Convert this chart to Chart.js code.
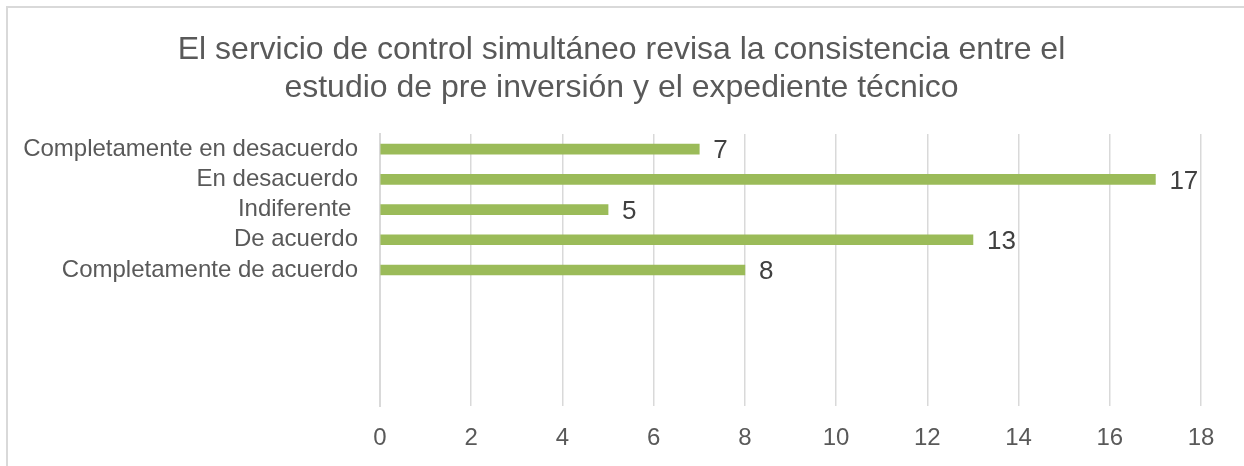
<!DOCTYPE html>
<html>
<head>
<meta charset="utf-8">
<title>Servicio de control simultáneo</title>
<script src="https://cdn.jsdelivr.net/npm/chart.js@4"></script>
<style>
  body { margin: 0; background: #fff; }
  canvas { display: block; }
</style>
</head>
<body>
<canvas id="myChart" width="1244" height="466"></canvas>
<script>
// categorías (las últimas vacías, como en el gráfico original)
var categorias = ['Completamente en desacuerdo', 'En desacuerdo', 'Indiferente ', 'De acuerdo', 'Completamente de acuerdo', '', '', '', ''];
var valores = [7, 17, 5, 13, 8];
var ticksX = [0, 2, 4, 6, 8, 10, 12, 14, 16, 18];
var titulo = ['El servicio de control simultáneo revisa la consistencia entre el', 'estudio de pre inversión y el expediente técnico'];

// marco gris claro alrededor del gráfico
var marco = {
    id: 'marco',
    beforeDraw: function (chart) {
        var c = chart.ctx;
        c.save();
        c.strokeStyle = '#d9d9d9';
        c.lineWidth = 2;
        c.beginPath();
        c.moveTo(7, 470);
        c.lineTo(7, 7);
        c.lineTo(1250, 7);
        c.stroke();
        c.restore();
    }
};

// etiquetas de valor al final de cada barra
var etiquetas = {
    id: 'etiquetas',
    afterDatasetsDraw: function (chart) {
        var c = chart.ctx;
        var meta = chart.getDatasetMeta(0);
        c.save();
        c.font = '26px "Liberation Sans", Arial, sans-serif';
        c.fillStyle = '#404040';
        c.textAlign = 'left';
        c.textBaseline = 'middle';
        meta.data.forEach(function (bar, i) {
            c.fillText(String(valores[i]), bar.x + 14, bar.y + 2);
        });
        c.restore();
    }
};

var ctx = document.getElementById('myChart').getContext('2d');

var myChart = new Chart(ctx, {
    type: 'bar',
    data: {
        labels: categorias,
        datasets: [{
            data: valores,
            backgroundColor: '#9bbb59',
            barThickness: 10
        }]
    },
    options: {
        indexAxis: 'y',
        responsive: false,
        animation: false,
        layout: { padding: { left: 21, right: 22, top: 0, bottom: 0 } },
        plugins: {
            legend: { display: false },
            tooltip: { enabled: false },
            title: {
                display: true,
                text: titulo,
                color: '#595959',
                font: { family: '"Liberation Sans", Arial, sans-serif', size: 32, weight: 'normal', lineHeight: 1.1875 },
                padding: { top: 31, bottom: 27 }
            }
        },
        scales: {
            x: {
                min: 0,
                max: 18,
                afterBuildTicks: function (scale) {
                    scale.ticks = ticksX.map(function (v) { return { value: v }; });
                },
                afterFit: function (scale) { scale.height = 60; },
                grid: { color: '#d9d9d9', lineWidth: 1.5, drawTicks: false },
                border: { display: false },
                ticks: {
                    color: '#595959',
                    padding: 18,
                    font: { family: '"Liberation Sans", Arial, sans-serif', size: 24 }
                }
            },
            y: {
                afterFit: function (scale) { scale.width = 359; },
                grid: { display: false, drawTicks: false },
                border: { display: true, color: '#d9d9d9', width: 2 },
                ticks: {
                    color: '#595959',
                    padding: 22,
                    autoSkip: false,
                    font: { family: '"Liberation Sans", Arial, sans-serif', size: 24 }
                }
            },
            // eje vacío a la derecha, solo para dejar margen
            margen: {
                type: 'linear',
                position: 'right',
                afterFit: function (scale) { scale.width = 21; },
                grid: { display: false, drawTicks: false },
                border: { display: false },
                ticks: { display: false }
            }
        }
    },
    plugins: [marco, etiquetas]
});
</script>
</body>
</html>
